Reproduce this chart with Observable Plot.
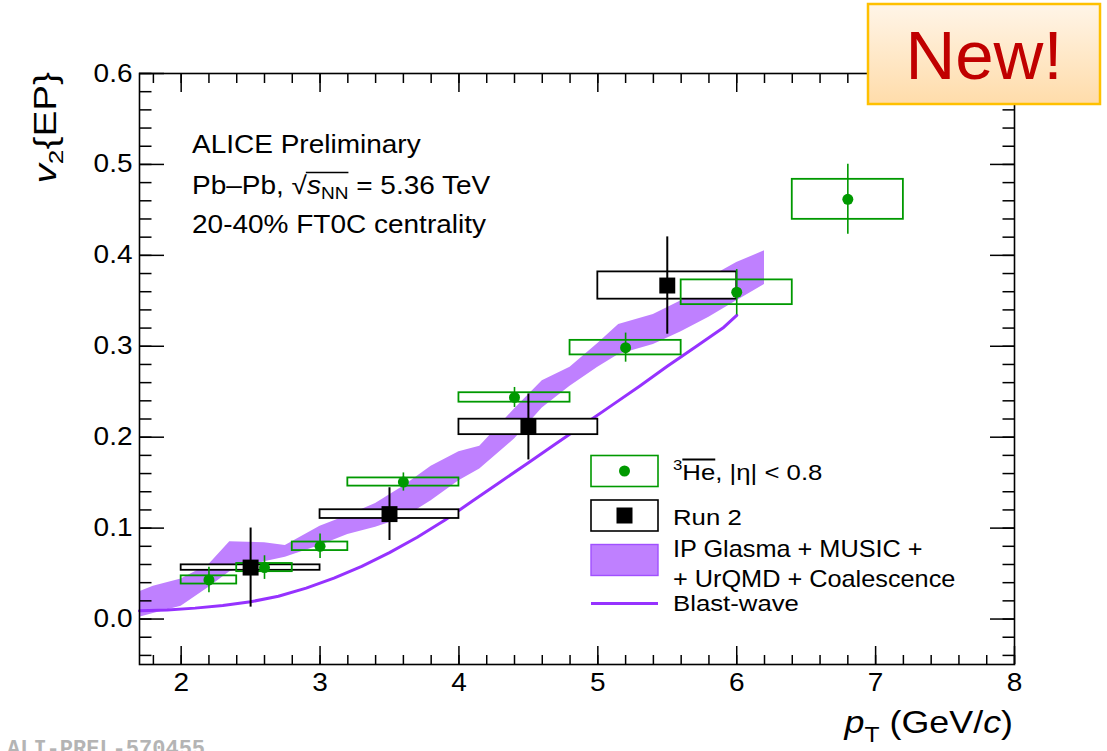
<!DOCTYPE html>
<html><head><meta charset="utf-8">
<script src="https://cdn.jsdelivr.net/npm/d3@7"></script>
<script src="https://cdn.jsdelivr.net/npm/@observablehq/plot@0.6"></script>
<style>
html,body{margin:0;padding:0;background:#fff;}
#chart{position:relative;width:1107px;height:751px;overflow:hidden;}
#chart svg{display:block;}
</style></head><body><div id="chart"></div>
<script>
// ---- 3He-bar (this analysis) ----
const hePt      = [2.2, 2.6, 3.0, 3.6, 4.4, 5.2, 6.0, 6.8];
const heBinLow  = [2.0, 2.4, 2.8, 3.2, 4.0, 4.8, 5.6, 6.4];
const heBinHigh = [2.4, 2.8, 3.2, 4.0, 4.8, 5.6, 6.4, 7.2];
const heV2      = [0.043, 0.0566, 0.080, 0.1507, 0.2437, 0.2985, 0.3594, 0.4616];
const heStat    = [0.014, 0.013, 0.0135, 0.010, 0.011, 0.016, 0.025, 0.0385];
const heSyst    = [0.0045, 0.0045, 0.0047, 0.0045, 0.0052, 0.008, 0.0136, 0.022];

// ---- Run 2 ----
const run2Pt      = [2.5, 3.5, 4.5, 5.5];
const run2BinLow  = [2.0, 3.0, 4.0, 5.0];
const run2BinHigh = [3.0, 4.0, 5.0, 6.0];
const run2V2      = [0.0566, 0.1154, 0.2113, 0.3668];
const run2Stat    = [0.0435, 0.029, 0.0363, 0.0535];
const run2Syst    = [0.003, 0.0048, 0.0085, 0.015];

// ---- IP Glasma + MUSIC + UrQMD + Coalescence band ----
const bandPt   = [1.7, 1.8, 2.0, 2.2, 2.35, 2.6, 2.75, 3.0, 3.2, 3.4, 3.6, 3.8, 4.0, 4.15, 4.4, 4.6, 4.8, 5.0, 5.15, 5.4, 5.6, 5.8, 6.0, 6.2];
const bandHigh = [0.030, 0.036, 0.044, 0.060, 0.085, 0.084, 0.081, 0.102, 0.114, 0.127, 0.146, 0.168, 0.184, 0.190, 0.231, 0.262, 0.277, 0.303, 0.324, 0.335, 0.350, 0.375, 0.392, 0.405];
const bandLow  = [0.002, 0.006, 0.014, 0.035, 0.052, 0.063, 0.068, 0.081, 0.093, 0.101, 0.111, 0.130, 0.152, 0.165, 0.198, 0.232, 0.256, 0.277, 0.291, 0.302, 0.316, 0.332, 0.350, 0.368];

// ---- Blast-wave ----
const bwPt = [1.7, 1.9, 2.1, 2.3, 2.5, 2.7, 2.9, 3.1, 3.3, 3.5, 3.7, 3.9, 4.1, 4.3, 4.5, 4.7, 4.9, 5.1, 5.3, 5.5, 5.7, 5.9, 6.0];
const bwV2 = [0.009, 0.010, 0.012, 0.015, 0.019, 0.025, 0.034, 0.045, 0.058, 0.073, 0.090, 0.109, 0.130, 0.151, 0.172, 0.193, 0.214, 0.235, 0.256, 0.278, 0.299, 0.320, 0.334];

// ---- axes ----
const xTicks = [2, 3, 4, 5, 6, 7, 8];
const xTickLabels = ["2", "3", "4", "5", "6", "7", "8"];
const yTicks = [0.0, 0.1, 0.2, 0.3, 0.4, 0.5, 0.6];
const yTickLabels = ["0.0", "0.1", "0.2", "0.3", "0.4", "0.5", "0.6"];
const xMinor = d3.range(9, 41).map(i => i / 5);
const yMinor = d3.range(-2, 31).map(i => i / 50);

const he = hePt.map((pt, i) => ({pt, lo: heBinLow[i], hi: heBinHigh[i], v: heV2[i], stat: heStat[i], sys: heSyst[i]}));
const run2 = run2Pt.map((pt, i) => ({pt, lo: run2BinLow[i], hi: run2BinHigh[i], v: run2V2[i], stat: run2Stat[i], sys: run2Syst[i]}));
const band = bandPt.map((pt, i) => ({pt, lo: bandLow[i], hi: bandHigh[i]}));
const bw = bwPt.map((pt, i) => ({pt, v: bwV2[i]}));

const GREEN = "#009900", VIOLET = "#9632ff", BANDFILL = "#bf80ff";
const FONT = "'Liberation Sans', Arial, Helvetica, sans-serif";
const SX = 1.12; // horizontal stretch of the reference's lettering

const chart = Plot.plot({
  width: 1107, height: 751,
  marginLeft: 139, marginRight: 93, marginTop: 73, marginBottom: 87,
  style: {fontFamily: FONT, fontSize: "25px", background: "white", color: "black", overflow: "visible"},
  x: {domain: [1.7, 8]},
  y: {domain: [-0.05, 0.6]},
  marks: [
    Plot.areaY(band, {x: "pt", y1: "lo", y2: "hi", fill: BANDFILL}),
    Plot.line(bw, {x: "pt", y: "v", stroke: VIOLET, strokeWidth: 3}),
    Plot.rect(run2, {x1: "lo", x2: "hi", y1: d => d.v - d.sys, y2: d => d.v + d.sys, fill: "white", stroke: "black", strokeWidth: 1.8}),
    Plot.rect(he, {x1: "lo", x2: "hi", y1: d => d.v - d.sys, y2: d => d.v + d.sys, fill: "none", stroke: GREEN, strokeWidth: 1.8}),
    Plot.ruleX(run2, {x: "pt", y1: d => d.v - d.stat, y2: d => d.v + d.stat, stroke: "black", strokeWidth: 2}),
    Plot.ruleX(he, {x: "pt", y1: d => d.v - d.stat, y2: d => d.v + d.stat, stroke: GREEN, strokeWidth: 1.6}),
    Plot.dot(run2, {x: "pt", y: "v", symbol: "square", r: 9, fill: "black", stroke: null}),
    Plot.dot(he, {x: "pt", y: "v", r: 5.5, fill: GREEN, stroke: null}),
    // frame + ROOT-style inward ticks
    Plot.frame({stroke: "black", strokeWidth: 1.6}),
    Plot.axisY({ticks: yMinor, anchor: "left", tickSize: -12.5, fill: "none", label: null, strokeWidth: 1.5}),
    Plot.axisY({ticks: yTicks, anchor: "left", tickSize: -25, fill: "none", label: null, strokeWidth: 1.5}),
    Plot.axisY({ticks: yMinor, anchor: "right", tickSize: -12.5, fill: "none", label: null, strokeWidth: 1.5}),
    Plot.axisY({ticks: yTicks, anchor: "right", tickSize: -25, fill: "none", label: null, strokeWidth: 1.5}),
    Plot.axisX({ticks: xMinor, anchor: "bottom", tickSize: -9, fill: "none", label: null, strokeWidth: 1.5}),
    Plot.axisX({ticks: xTicks, anchor: "bottom", tickSize: -18, fill: "none", label: null, strokeWidth: 1.5}),
    Plot.axisX({ticks: xMinor, anchor: "top", tickSize: -9, fill: "none", label: null, strokeWidth: 1.5}),
    Plot.axisX({ticks: xTicks, anchor: "top", tickSize: -18, fill: "none", label: null, strokeWidth: 1.5}),
    Plot.axisY({ticks: yTicks, anchor: "left", tickSize: 0, tickPadding: 7, tickFormat: (d, i) => yTickLabels[i], fontSize: 25, label: null, ariaLabel: "ylab"}),
    Plot.axisX({ticks: xTicks, anchor: "bottom", tickSize: 0, tickPadding: 9, tickFormat: (d, i) => xTickLabels[i], fontSize: 25, label: null, ariaLabel: "xlab"})
  ]
});
document.getElementById("chart").appendChild(chart);

const svg = d3.select(chart);
// stretch tick labels horizontally like the reference lettering
svg.selectAll("text").each(function () {
  const t = this.getAttribute("transform");
  if (t) this.setAttribute("transform", t + ` scale(${SX},1)`);
});

// ---- overlays: titles, annotations, legend ----
const g = svg.append("g").attr("font-family", FONT).attr("fill", "black").attr("text-anchor", "start");
function txt(parent, x, y, size, anchor = "start", rot = 0, sx = SX) {
  const tr = rot ? `translate(${x},${y}) rotate(${rot}) scale(${sx},1)` : `translate(${x},${y}) scale(${sx},1)`;
  return parent.append("text").attr("transform", tr).attr("font-size", size).attr("text-anchor", anchor);
}

// y-axis title v2{EP}
const yt = txt(g, 56, 72, 31, "end", -90, 1.25);
yt.append("tspan").attr("font-style", "italic").text("v");
yt.append("tspan").attr("font-size", 21).attr("dy", 7).text("2");
yt.append("tspan").attr("dy", -7).text("{EP}");

// x-axis title pT (GeV/c)
const xt = txt(g, 1013, 733, 32, "end");
xt.append("tspan").attr("font-style", "italic").text("p");
xt.append("tspan").attr("font-size", 22).attr("dy", 9).text("T");
xt.append("tspan").attr("dy", -9).text(" (GeV/");
xt.append("tspan").attr("font-style", "italic").text("c");
xt.append("tspan").text(")");

// annotation
txt(g, 192, 153, 25).text("ALICE Preliminary");
const a2 = txt(g, 192, 194, 25);
a2.append("tspan").text("Pb–Pb, ");
const rad = a2.append("tspan").text("√");
a2.append("tspan").attr("font-style", "italic").text("s");
const nnT = a2.append("tspan").attr("font-size", 17).attr("dy", 5).text("NN");
a2.append("tspan").attr("dy", -5).text(" = 5.36 TeV");
txt(g, 192, 233, 25).text("20-40% FT0C centrality");
{
  const x0 = rad.node().getStartPositionOfChar(0).x + rad.node().getComputedTextLength() - 1;
  const x1 = nnT.node().getStartPositionOfChar(0).x + nnT.node().getComputedTextLength();
  g.append("line")
    .attr("transform", `translate(192,194) scale(${SX},1)`)
    .attr("x1", x0).attr("x2", x1).attr("y1", -21.5).attr("y2", -21.5)
    .attr("stroke", "black").attr("stroke-width", 1.6);
}

// legend
const L = g.append("g");
const bx = 591, bwid = 67, bh = 31, tx = 673;
L.append("rect").attr("x", bx).attr("y", 455.5).attr("width", bwid).attr("height", bh).attr("fill", "white").attr("stroke", GREEN).attr("stroke-width", 1.6);
L.append("circle").attr("cx", bx + bwid / 2).attr("cy", 471).attr("r", 5.5).attr("fill", GREEN);
L.append("rect").attr("x", bx).attr("y", 500).attr("width", bwid).attr("height", bh).attr("fill", "white").attr("stroke", "black").attr("stroke-width", 1.6);
L.append("rect").attr("x", bx + bwid / 2 - 8).attr("y", 507.5).attr("width", 16).attr("height", 16).attr("fill", "black");
L.append("rect").attr("x", bx).attr("y", 544.5).attr("width", bwid).attr("height", bh).attr("fill", BANDFILL).attr("stroke", "#a050ff").attr("stroke-width", 1.4);
L.append("line").attr("x1", bx).attr("x2", bx + bwid).attr("y1", 603.5).attr("y2", 603.5).attr("stroke", VIOLET).attr("stroke-width", 3);

const l1 = txt(L, tx, 480, 23);
l1.append("tspan").attr("font-size", 15).attr("dy", -10).text("3");
const heT = l1.append("tspan").attr("dy", 10).text("He");
l1.append("tspan").text(", |η| < 0.8");
{
  const x0 = heT.node().getStartPositionOfChar(0).x;
  const x1 = x0 + heT.node().getComputedTextLength();
  L.append("line").attr("transform", `translate(${tx},480) scale(${SX},1)`)
    .attr("x1", x0).attr("x2", x1).attr("y1", -20.5).attr("y2", -20.5).attr("stroke", "black").attr("stroke-width", 1.8);
}
txt(L, tx, 525, 23).text("Run 2");
txt(L, tx, 557, 23, "start", 0, 1.1).text("IP Glasma + MUSIC +");
txt(L, tx, 586.5, 23, "start", 0, 1.1).text("+ UrQMD + Coalescence");
txt(L, tx, 611, 23).text("Blast-wave");

// preliminary ID
g.append("text").attr("x", 7).attr("y", 755).attr("text-anchor", "start").attr("font-family", "'Liberation Mono', 'DejaVu Sans Mono', monospace").attr("font-weight", "bold").attr("font-size", 22).attr("fill", "#b4b4b4").text("ALI-PREL-570455");

// "New!" badge
const defs = svg.append("defs");
const grad = defs.append("linearGradient").attr("id", "newgrad").attr("x1", 0).attr("y1", 0).attr("x2", 0).attr("y2", 1);
grad.append("stop").attr("offset", "0%").attr("stop-color", "#fff5e8");
grad.append("stop").attr("offset", "100%").attr("stop-color", "#ffdcaa");
const nb = svg.append("g");
nb.append("rect").attr("x", 868).attr("y", 4).attr("width", 232).attr("height", 100).attr("fill", "url(#newgrad)").attr("stroke", "#ffc000").attr("stroke-width", 2.5);
nb.append("text").attr("x", 984).attr("y", 79).attr("text-anchor", "middle").attr("font-family", FONT).attr("font-size", 69).attr("fill", "#c00000").text("New!");
</script></body></html>
